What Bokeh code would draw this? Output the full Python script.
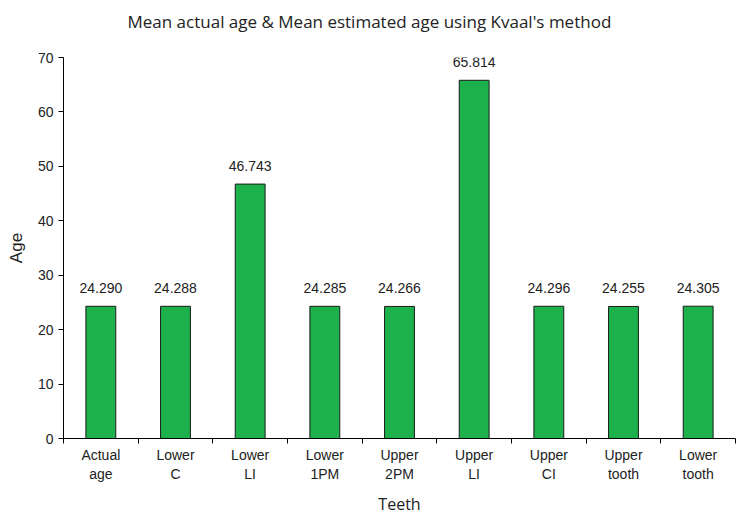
import numpy as np
from bokeh.plotting import figure
from bokeh.models import ColumnDataSource, FixedTicker, Range1d, Title, LabelSet
from bokeh.core.properties import value
from bokeh.embed import file_html
from bokeh.resources import INLINE

title_text = "Mean actual age & Mean estimated age using Kvaal's method"
categories = ["Actual\nage", "Lower\nC", "Lower\nLI", "Lower\n1PM", "Upper\n2PM",
              "Upper\nLI", "Upper\nCI", "Upper\ntooth", "Lower\ntooth"]
values = [24.290, 24.288, 46.743, 24.285, 24.266, 65.814, 24.296, 24.255, 24.305]
value_labels = ["24.290", "24.288", "46.743", "24.285", "24.266", "65.814", "24.296", "24.255", "24.305"]
y_ticks = [0, 10, 20, 30, 40, 50, 60, 70]

n = len(categories)
centers = np.arange(n) + 0.5
src = ColumnDataSource(dict(x=centers, top=values, lab=value_labels))

p = figure(output_backend="svg", toolbar_location=None,
           frame_width=672, frame_height=381,
           x_range=Range1d(0, n), y_range=Range1d(0, 70),
           min_border_left=63, min_border_right=1, min_border_top=57, min_border_bottom=78)
p.outline_line_color = None
p.grid.grid_line_color = None
p.background_fill_color = "white"
p.border_fill_color = "white"

p.vbar(x="x", top="top", width=0.4, bottom=0, source=src,
       fill_color="#1db14b", line_color="#1a1a1a", line_width=1)

labels = LabelSet(x="x", y="top", text="lab", source=src, text_align="center",
                  text_baseline="bottom", y_offset=13, text_font=value("Liberation Sans"),
                  text_font_size=value("14px"), text_color=value("#222222"))
p.add_layout(labels)

xt = FixedTicker(ticks=list(centers), minor_ticks=list(range(n + 1)))
p.xaxis.ticker = xt
p.xaxis.major_label_overrides = {float(c): lab for c, lab in zip(centers, categories)}
p.xaxis.major_tick_line_color = None
p.xaxis.major_tick_out = 0
p.xaxis.major_tick_in = 0
p.xaxis.minor_tick_line_color = "black"
p.xaxis.minor_tick_out = 5
p.xaxis.minor_tick_in = 0
p.xaxis.major_label_standoff = 3
p.xaxis.axis_label = "Teeth"
p.xaxis.axis_label_standoff = 8

p.yaxis.ticker = FixedTicker(ticks=y_ticks)
p.yaxis.major_tick_out = 5
p.yaxis.major_tick_in = 0
p.yaxis.minor_tick_line_color = None
p.yaxis.major_label_standoff = 5
p.yaxis.axis_label = "Age"
p.yaxis.axis_label_standoff = 9

for ax in (p.xaxis, p.yaxis):
    ax.axis_line_color = "black"
    ax.major_label_text_font = "Liberation Sans"
    ax.major_label_text_font_size = "14px"
    ax.major_label_text_color = "#222222"
    ax.axis_label_text_font_style = "normal"
    ax.axis_label_text_color = "#222222"

p.xaxis.axis_label_text_font = "Open Sans"
p.xaxis.axis_label_text_font_size = "16px"
p.yaxis.axis_label_text_font = "Liberation Sans"
p.yaxis.axis_label_text_font_size = "17px"

# spacer title (nearest the frame), then the real title above it
spacer = Title(text=" ", text_font_size="17px", standoff=4)
p.add_layout(spacer, "above")
t = Title(text=title_text, align="left", offset=64, text_font="Open Sans",
          text_font_style="normal", text_font_size="17px", text_color="#222222",
          standoff=0)
p.add_layout(t, "above")

open("out.html", "w").write(file_html(p, INLINE))
